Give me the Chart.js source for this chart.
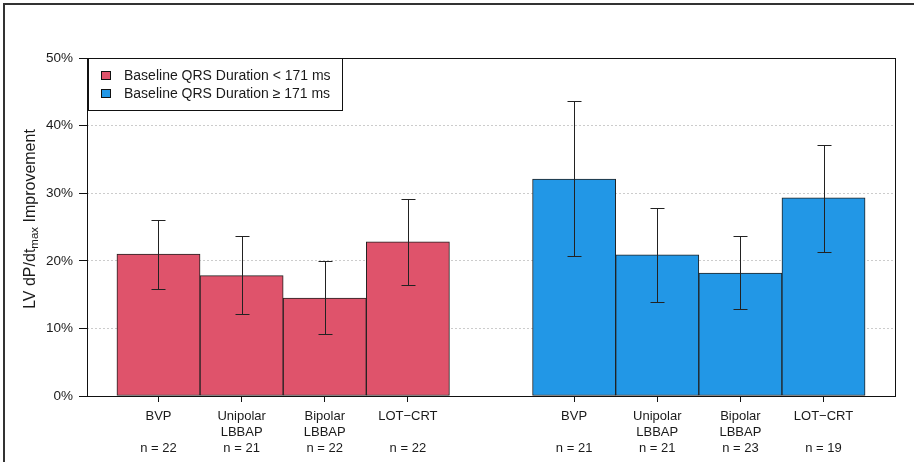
<!DOCTYPE html>
<html>
<head>
<meta charset="utf-8">
<script src="https://cdn.jsdelivr.net/npm/chart.js@4.4.1/dist/chart.umd.min.js"></script>
<style>
    html, body { margin: 0; padding: 0; background: #fff; overflow: hidden; }
    #wrap { position: relative; width: 914px; height: 462px; overflow: hidden; }
    #frame { position: absolute; left: 3px; top: 3px; width: 1000px; height: 1000px; border: 2px solid #333; box-sizing: border-box; pointer-events: none; }
</style>
</head>
<body>
<div id="wrap">
    <canvas id="chart" width="914" height="462"></canvas>
    <div id="frame"></div>
</div>
<script>
var groupNames = ['Baseline QRS Duration < 171 ms', 'Baseline QRS Duration \u2265 171 ms'];
var methods = [['BVP'], ['Unipolar', 'LBBAP'], ['Bipolar', 'LBBAP'], ['LOT\u2212CRT']];

var meanLow = [21.0, 17.8, 14.5, 22.8];
var lowLow = [15.8, 12.1, 9.2, 16.4];
var highLow = [26.0, 23.6, 19.9, 29.1];
var nLow = [22, 21, 22, 22];

var meanHigh = [32.1, 20.9, 18.2, 29.3];
var lowHigh = [20.7, 13.9, 12.9, 21.3];
var highHigh = [43.6, 27.8, 23.6, 37.2];
var nHigh = [21, 21, 23, 19];

var yTicks = [0, 10, 20, 30, 40, 50];
var colors = ['#DF536B', '#2297E6'];

(function () {
    var font = "'Liberation Sans', Arial, Helvetica, sans-serif";
    var ink = '#1a1a1a';
    var means = [meanLow, meanHigh];
    var lows = [lowLow, lowHigh];
    var highs = [highLow, highHigh];
    var ns = [nLow, nHigh];

    // barplot-style positions: one bar gap between the groups
    var pos = function (g, i) { return g * (methods.length + 1) + i + 1.5; };
    var span = 2 * (methods.length + 1) - 1;
    var xMin = 1 - 0.04 * span, xMax = 1 + span + 0.04 * span;

    var tickPos = [], tickLabels = [];
    means.forEach(function (m, g) {
        m.forEach(function (v, i) {
            tickPos.push(pos(g, i));
            var lines = methods[i].slice();
            while (lines.length < 2) lines.push('');
            lines.push('n = ' + ns[g][i]);
            tickLabels.push(lines);
        });
    });

    var datasets = means.map(function (m, g) {
        return {
            label: groupNames[g],
            data: m.map(function (v, i) { return { x: pos(g, i), y: v }; }),
            backgroundColor: colors[g],
            borderColor: '#222',
            borderWidth: 1,
            borderSkipped: false,
            grouped: false,
            categoryPercentage: 1,
            barPercentage: 1
        };
    });

    var extras = {
        id: 'extras',
        afterDatasetsDraw: function (chart) {
            var ctx = chart.ctx, xs = chart.scales.x, ys = chart.scales.y;
            ctx.save();
            ctx.strokeStyle = '#222';
            ctx.lineWidth = 1;
            means.forEach(function (m, g) {
                m.forEach(function (v, i) {
                    var x = Math.round(xs.getPixelForValue(pos(g, i))) + 0.5;
                    var y1 = Math.round(ys.getPixelForValue(lows[g][i])) + 0.5;
                    var y2 = Math.round(ys.getPixelForValue(highs[g][i])) + 0.5;
                    ctx.beginPath();
                    ctx.moveTo(x, y1); ctx.lineTo(x, y2);
                    ctx.moveTo(x - 7, y1); ctx.lineTo(x + 7, y1);
                    ctx.moveTo(x - 7, y2); ctx.lineTo(x + 7, y2);
                    ctx.stroke();
                });
            });
            ctx.restore();
        },
        afterDraw: function (chart) {
            var ctx = chart.ctx, a = chart.chartArea;
            ctx.save();
            // plot box
            ctx.strokeStyle = '#111';
            ctx.lineWidth = 1;
            ctx.strokeRect(a.left + 0.5, a.top + 0.5, a.right - a.left, a.bottom - a.top);

            // legend
            var lx = a.left + 1, ly = a.top;
            ctx.fillStyle = '#fff';
            ctx.fillRect(lx, ly, 254, 52);
            ctx.strokeRect(lx + 0.5, ly + 0.5, 254, 52);
            ctx.font = '14px ' + font;
            ctx.textBaseline = 'middle';
            groupNames.forEach(function (name, g) {
                var cy = ly + 17 + g * 18;
                ctx.fillStyle = colors[g];
                ctx.fillRect(lx + 13, cy - 4, 10, 9);
                ctx.strokeStyle = '#111';
                ctx.strokeRect(lx + 13.5, cy - 3.5, 9, 8);
                ctx.fillStyle = ink;
                ctx.fillText(name, lx + 36, cy + 1);
            });

            // y axis title with subscript
            var parts = [['LV dP/dt', 16, 0], ['max', 11.5, 4], [' Improvement', 16, 0]];
            var total = 0;
            parts.forEach(function (p) { ctx.font = p[1] + 'px ' + font; p.push(ctx.measureText(p[0]).width); total += p[3]; });
            ctx.translate(31, 219);
            ctx.rotate(-Math.PI / 2);
            ctx.fillStyle = ink;
            ctx.textBaseline = 'middle';
            var cx = -total / 2;
            parts.forEach(function (p) {
                ctx.font = p[1] + 'px ' + font;
                ctx.fillText(p[0], cx, p[2]);
                cx += p[3];
            });
            ctx.restore();
        }
    };

    new Chart(document.getElementById('chart'), {
        type: 'bar',
        data: { datasets: datasets },
        options: {
            responsive: false,
            animation: false,
            events: [],
            layout: { padding: { left: 0, top: 58, right: 19, bottom: 0 } },
            plugins: { legend: { display: false }, tooltip: { enabled: false } },
            scales: {
                x: {
                    type: 'linear',
                    min: xMin,
                    max: xMax,
                    offset: false,
                    afterBuildTicks: function (s) { s.ticks = tickPos.map(function (v) { return { value: v }; }); },
                    afterFit: function (s) { s.height = 66; },
                    grid: { offset: false, drawOnChartArea: false, drawTicks: true, tickLength: 6, tickColor: '#111' },
                    border: { display: false },
                    ticks: {
                        autoSkip: false,
                        maxRotation: 0,
                        padding: 6,
                        color: ink,
                        font: { family: font, size: 13, lineHeight: '16px' },
                        callback: function (v, i) { return tickLabels[i]; }
                    }
                },
                y: {
                    min: yTicks[0],
                    max: yTicks[yTicks.length - 1],
                    afterBuildTicks: function (s) { s.ticks = yTicks.map(function (v) { return { value: v }; }); },
                    afterFit: function (s) { s.width = 87; },
                    grid: { color: '#cccccc', lineWidth: 1, drawTicks: true, tickLength: 8, tickColor: '#111', tickBorderDash: [] },
                    border: { display: false, dash: [2, 2] },
                    ticks: {
                        padding: 6,
                        color: ink,
                        font: { family: font, size: 13.5 },
                        callback: function (v) { return v + '%'; }
                    }
                }
            }
        },
        plugins: [extras]
    });
})();
</script>
</body>
</html>
